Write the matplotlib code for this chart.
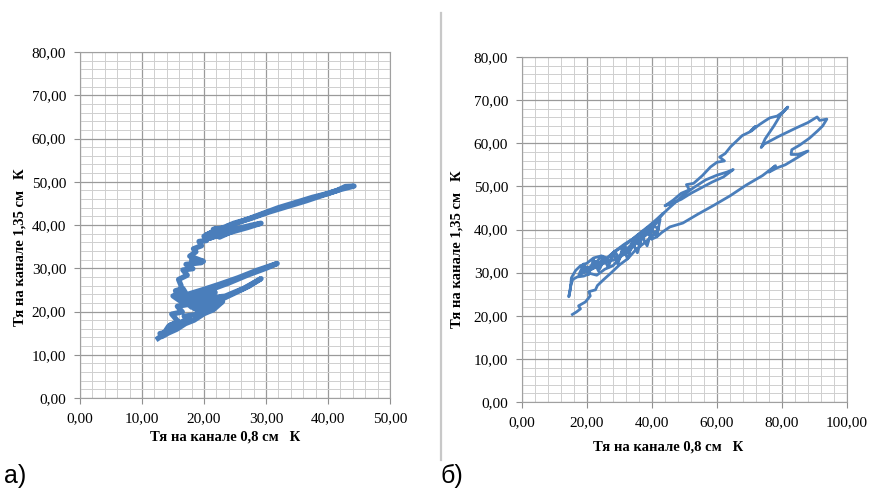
import matplotlib
matplotlib.use("Agg")
import matplotlib.pyplot as plt
from matplotlib.ticker import MultipleLocator, FuncFormatter

# ---------- panel a) : channel 0.8 cm vs channel 1.35 cm ----------
left_x = [12.6, 13.4, 12.9, 14.2, 15.3, 14.6, 16.4, 17.6, 16.8, 18.7, 19.8, 19.0, 21.0, 22.2, 23.0,
          21.5, 20.0, 18.4, 17.0, 15.6, 14.2, 13.2,
          14.3, 15.8, 14.8, 16.5, 15.7, 17.3, 16.0, 15.0, 16.4, 15.4, 16.6,
          17.2, 19.5, 22.5, 25.5, 28.5, 31.8, 30.0, 27.0, 24.0, 21.0, 18.2, 20.0, 17.5, 20.5, 18.5,
          21.5, 19.2, 22.8, 25.0, 27.3, 29.2, 26.5, 23.5, 20.5, 17.0, 15.5,
          18.0, 21.0, 19.0, 22.5, 20.0, 23.0, 18.5, 21.8, 17.6, 16.2,
          16.3, 15.9, 17.3, 16.6, 18.2, 17.1, 19.6, 18.0, 19.9, 17.7, 18.7, 18.3, 19.6, 19.2, 20.4,
          20.0, 21.2, 22.3, 20.8, 23.1, 21.8, 24.2, 23.0,
          21.5, 23.5, 22.5, 24.5, 21.0, 23.0,
          25.5, 27.5, 29.2, 27.0, 24.5, 22.0, 20.5,
          22.5, 24.8, 27.5, 30.5, 33.5, 36.5, 39.0, 41.5, 42.8, 44.2, 42.0, 40.0, 37.5, 35.0,
          32.0, 29.0, 26.0, 24.0]
left_y = [13.8, 14.6, 14.9, 15.3, 16.4, 16.9, 17.6, 18.4, 18.9, 19.3, 20.3, 20.9, 21.0, 21.8, 22.3,
          20.4, 19.5, 18.0, 17.2, 15.9, 15.0, 14.2,
          16.6, 17.7, 19.4, 19.9, 21.2, 21.6, 22.6, 23.6, 24.1, 24.8, 25.3,
          23.9, 24.9, 26.3, 27.8, 29.5, 31.1, 30.0, 28.4, 26.6, 25.0, 23.5, 22.8, 21.8, 22.0, 20.6,
          21.4, 20.0, 22.8, 24.3, 25.9, 27.6, 25.4, 23.6, 22.5, 23.0, 24.2,
          21.0, 23.6, 20.2, 22.2, 21.0, 23.5, 22.4, 24.4, 22.6, 23.4,
          26.0, 27.4, 28.4, 29.6, 29.9, 30.9, 31.3, 31.9, 31.6, 32.8, 33.8, 34.5, 35.2, 36.2, 36.4,
          37.4, 38.3, 37.8, 36.9, 38.5, 39.1, 38.9, 37.7,
          39.0, 39.4, 37.2, 38.5, 37.0, 39.3,
          39.2, 39.9, 40.4, 39.4, 38.4, 37.4, 37.8,
          39.0, 40.4, 41.5, 43.0, 44.3, 45.6, 46.8, 48.0, 48.9, 49.0, 48.2, 47.3, 46.4, 45.3,
          44.0, 42.4, 40.8, 39.8]

# ---------- panel б) ----------
right_x = [15.5, 16.8, 18.0, 17.4, 19.5, 21.0, 20.6, 22.6, 23.2, 25.0, 27.5, 30.0, 32.5, 35.0, 37.5,
           40.0, 42.0, 40.5, 38.0, 35.5, 33.0, 30.5, 28.0, 25.5, 23.0, 21.0, 19.0, 17.0, 15.6, 15.0,
           14.6, 14.4, 14.9, 15.2, 16.5, 18.0, 20.0, 22.0, 24.5, 22.5, 20.0, 18.5, 21.0, 24.0, 26.5,
           29.0, 31.5, 34.0, 36.5, 39.0, 41.5, 43.5, 41.0, 38.5, 36.0, 33.5, 31.0, 28.5, 26.0, 23.5,
           17.5, 19.0, 20.5, 22.0, 23.5, 25.0, 26.5, 28.0, 29.5, 31.0, 32.5, 34.0, 35.5, 37.0, 38.5,
           40.0, 41.5, 42.5, 41.0, 39.0, 37.5, 36.0, 34.5, 33.0, 31.5, 30.0, 28.5, 27.0, 25.5, 24.0,
           22.5, 21.0, 19.5, 18.0,
           25.5, 28.0, 30.5, 33.0, 35.5, 38.0, 40.5, 42.5, 45.0, 47.5, 50.0,
           53.0, 56.5, 60.0, 63.0, 65.0, 62.0, 58.5, 55.0, 52.0, 49.0, 46.0, 44.0, 46.5, 49.0, 51.5,
           50.6, 52.8, 55.5, 58.0, 60.0, 62.3, 60.8, 62.5, 64.2, 66.0, 67.8, 70.0, 71.8, 70.5, 73.0,
           75.0, 76.3, 78.5, 80.2, 81.8, 79.5, 77.5, 74.8, 73.6, 74.5, 79.0, 84.5, 88.0, 90.8, 91.6,
           93.8, 92.5, 91.0, 88.5, 85.5, 83.0, 82.8, 85.0, 88.0,
           85.0, 81.0, 78.5, 76.0, 78.0, 74.0, 69.0, 64.0, 59.0, 54.0, 49.5, 45.5, 43.0, 41.5, 40.0]
right_y = [20.3, 20.9, 21.6, 22.3, 23.2, 24.6, 25.6, 26.0, 27.0, 28.3, 30.0, 31.8, 33.2, 35.3, 36.8,
           38.4, 40.2, 40.8, 38.6, 37.2, 35.0, 33.8, 31.6, 30.8, 29.4, 29.8, 29.2, 29.0, 28.4, 27.0,
           25.3, 24.4, 26.2, 28.8, 30.5, 31.6, 32.2, 33.4, 33.9, 32.0, 31.0, 30.0, 30.6, 32.2, 33.5,
           35.2, 36.6, 37.8, 39.3, 40.8, 42.4, 43.8, 41.5, 39.6, 38.2, 36.4, 34.5, 33.0, 32.5, 31.5,
           29.5, 32.0, 29.6, 33.0, 30.4, 33.8, 31.2, 34.6, 32.0, 35.8, 33.2, 37.0, 34.6, 38.4, 36.2,
           40.0, 38.4, 42.4, 41.2, 38.8, 39.6, 36.4, 37.8, 35.0, 36.2, 33.2, 35.0, 32.4, 33.6, 31.0,
           32.6, 30.6, 31.4, 29.8,
           33.0, 34.6, 35.8, 37.1, 38.6, 40.0, 41.5, 43.0, 44.8, 46.5, 48.2,
           49.8, 51.5, 52.6, 53.3, 53.9, 52.2, 51.0, 49.6, 48.4, 47.0, 46.0, 45.5, 46.8, 48.4, 49.2,
           50.4, 50.7, 52.5, 54.5, 55.6, 55.9, 56.8, 57.6, 59.2, 60.5, 61.8, 62.6, 63.9, 62.8, 64.3,
           65.3, 65.9, 66.3, 67.2, 68.4, 66.5, 64.0, 61.0, 59.0, 59.8, 61.6, 63.6, 64.8, 66.1, 65.3,
           65.6, 64.0, 62.9, 61.2, 59.6, 58.5, 57.4, 57.4, 58.2,
           56.8, 55.0, 54.3, 53.3, 54.8, 52.5, 50.3, 47.8, 45.6, 43.5, 41.5, 40.6, 39.3, 38.3, 37.8]

x_label = "Тя на канале 0,8 см   К"
y_label = "Тя на канале 1,35 см   К"
panel_tags = ["а)", "б)"]

LINE_COLOR = "#4a7ebb"
SERIF = "Liberation Serif"


def comma_fmt(v, _pos):
    return f"{v:.2f}".replace(".", ",")


def style_axes(ax, xmax, xmajor):
    ax.set_xlim(0, xmax)
    ax.set_ylim(0, 80)
    ax.xaxis.set_major_locator(MultipleLocator(xmajor))
    ax.xaxis.set_minor_locator(MultipleLocator(xmajor / 5))
    ax.yaxis.set_major_locator(MultipleLocator(10))
    ax.yaxis.set_minor_locator(MultipleLocator(2))
    ax.xaxis.set_major_formatter(FuncFormatter(comma_fmt))
    ax.yaxis.set_major_formatter(FuncFormatter(comma_fmt))
    ax.grid(which="major", color="#9a9a9a", linewidth=0.9)
    ax.grid(which="minor", color="#cfcfcf", linewidth=0.7)
    ax.set_axisbelow(True)
    for sp in ax.spines.values():
        sp.set_color("#a0a0a0")
        sp.set_linewidth(0.8)
    ax.tick_params(which="major", length=4, color="#909090", labelsize=11, pad=6)
    ax.tick_params(which="minor", length=0)
    for lab in ax.get_xticklabels() + ax.get_yticklabels():
        lab.set_family(SERIF)


fig = plt.figure(figsize=(8.74, 4.93), dpi=100)
W, H = 874, 493

ax1 = fig.add_axes([80 / W, 1 - 398 / H, 310 / W, 346 / H])
ax1.plot(left_x, left_y, color=LINE_COLOR, linewidth=3.8, solid_joinstyle="round")
style_axes(ax1, 50, 10)

ax2 = fig.add_axes([522 / W, 1 - 402 / H, 325 / W, 345 / H])
ax2.plot(right_x, right_y, color=LINE_COLOR, linewidth=2.0, solid_joinstyle="round")
style_axes(ax2, 100, 20)

# axis titles (bold serif, placed like the original Excel export)
lab_kw = dict(family=SERIF, fontsize=10.5, fontweight="bold", ha="center", va="center")
fig.text(20 / W, 1 - 247 / H, y_label, rotation=90, **lab_kw)
fig.text(225 / W, 1 - 437 / H, x_label, **lab_kw)
fig.text(457 / W, 1 - 249 / H, y_label, rotation=90, **lab_kw)
fig.text(668 / W, 1 - 447 / H, x_label, **lab_kw)

# separator between panels
fig.add_artist(plt.Line2D([441 / W, 441 / W], [1 - 13 / H, 1 - 460 / H],
                          color="#c8c8c8", linewidth=1.6))

tag_kw = dict(family="Liberation Sans", fontsize=18, ha="left", va="center")
fig.text(4 / W, 1 - 476 / H, panel_tags[0], **tag_kw)
fig.text(440 / W, 1 - 476 / H, panel_tags[1], **tag_kw)

fig.savefig("out.png", dpi=100, facecolor="white")
